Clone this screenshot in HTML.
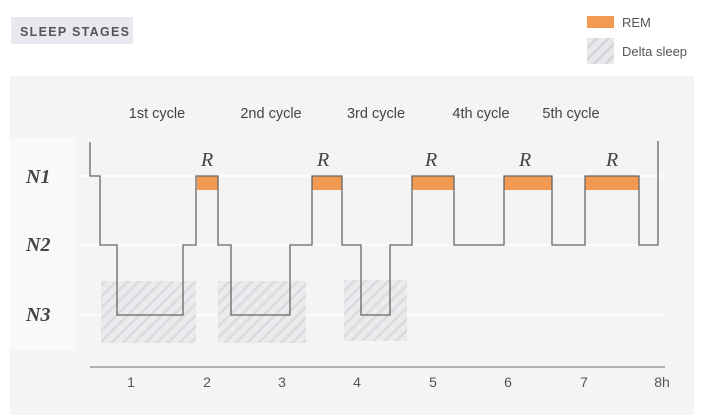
<!DOCTYPE html>
<html><head><style>
body{margin:0;width:703px;height:415px;background:#fff;overflow:hidden;font-family:"Liberation Sans",sans-serif}
</style></head><body>
<svg width="703" height="415" xmlns="http://www.w3.org/2000/svg" style="position:absolute;left:0;top:0">
<defs>
<pattern id="h" width="8" height="8" patternUnits="userSpaceOnUse" patternTransform="rotate(45)">
<rect width="8" height="8" fill="#e9e7ea"/><rect width="2.5" height="8" fill="#d6d4d9"/>
</pattern>
</defs>
<rect x="11" y="17" width="122" height="27" fill="#e8e8ee"/>
<text x="20" y="36" font-size="12.5" font-weight="bold" fill="#555" letter-spacing="1.3">SLEEP STAGES</text>
<rect x="587" y="16" width="27" height="12" fill="#f39a52"/>
<text x="622" y="27" font-size="13" fill="#555">REM</text>
<rect x="587" y="38" width="27" height="26" fill="url(#h)"/>
<text x="622" y="56" font-size="13" fill="#555">Delta sleep</text>
<rect x="10" y="76" width="684" height="339" fill="#f5f4f3"/>
<rect x="10" y="138" width="66" height="212" fill="#faf9f8"/>
<g font-size="14.5" fill="#444" text-anchor="middle">
<text x="157" y="118">1st cycle</text><text x="271" y="118">2nd cycle</text><text x="376" y="118">3rd cycle</text><text x="481" y="118">4th cycle</text><text x="571" y="118">5th cycle</text>
</g>
<g font-family="Liberation Serif,serif" font-style="italic" font-weight="bold" font-size="20" fill="#444">
<text x="26" y="183">N1</text><text x="26" y="251">N2</text><text x="26" y="321">N3</text>
</g>
<g font-family="Liberation Serif,serif" font-style="italic" font-size="20" fill="#444">
<text x="201" y="166">R</text><text x="317" y="166">R</text><text x="425" y="166">R</text><text x="519" y="166">R</text><text x="606" y="166">R</text>
</g>
<g stroke="#fff" stroke-width="1.2">
<line x1="76" y1="176" x2="665" y2="176"/><line x1="76" y1="245" x2="665" y2="245"/><line x1="76" y1="315" x2="665" y2="315"/>
</g>
<rect x="101" y="281" width="95" height="62" fill="url(#h)" opacity=".8"/>
<rect x="218" y="281" width="88" height="62" fill="url(#h)" opacity=".8"/>
<rect x="344" y="280" width="63" height="61" fill="url(#h)" opacity=".8"/>
<g fill="#f39a52">
<rect x="197" y="176" width="21" height="14"/><rect x="312" y="176" width="30" height="14"/><rect x="412" y="176" width="42" height="14"/><rect x="504" y="176" width="48" height="14"/><rect x="585" y="176" width="54" height="14"/>
</g>
<path d="M90 142V176H100V245H117V315H183V245H196V176H218V245H231V315H290V245H312V176H342V245H361V315H390V245H412V176H454V245H504V176H552V245H585V176H639V245H658V141" fill="none" stroke="#666" stroke-width="1.3"/>
<line x1="90" y1="367" x2="665" y2="367" stroke="#999" stroke-width="1.5"/>
<g font-size="14" fill="#555" text-anchor="middle">
<text x="131" y="387">1</text><text x="207" y="387">2</text><text x="282" y="387">3</text><text x="357" y="387">4</text><text x="433" y="387">5</text><text x="508" y="387">6</text><text x="584" y="387">7</text><text x="662" y="387">8h</text>
</g>
</svg>
</body></html>
